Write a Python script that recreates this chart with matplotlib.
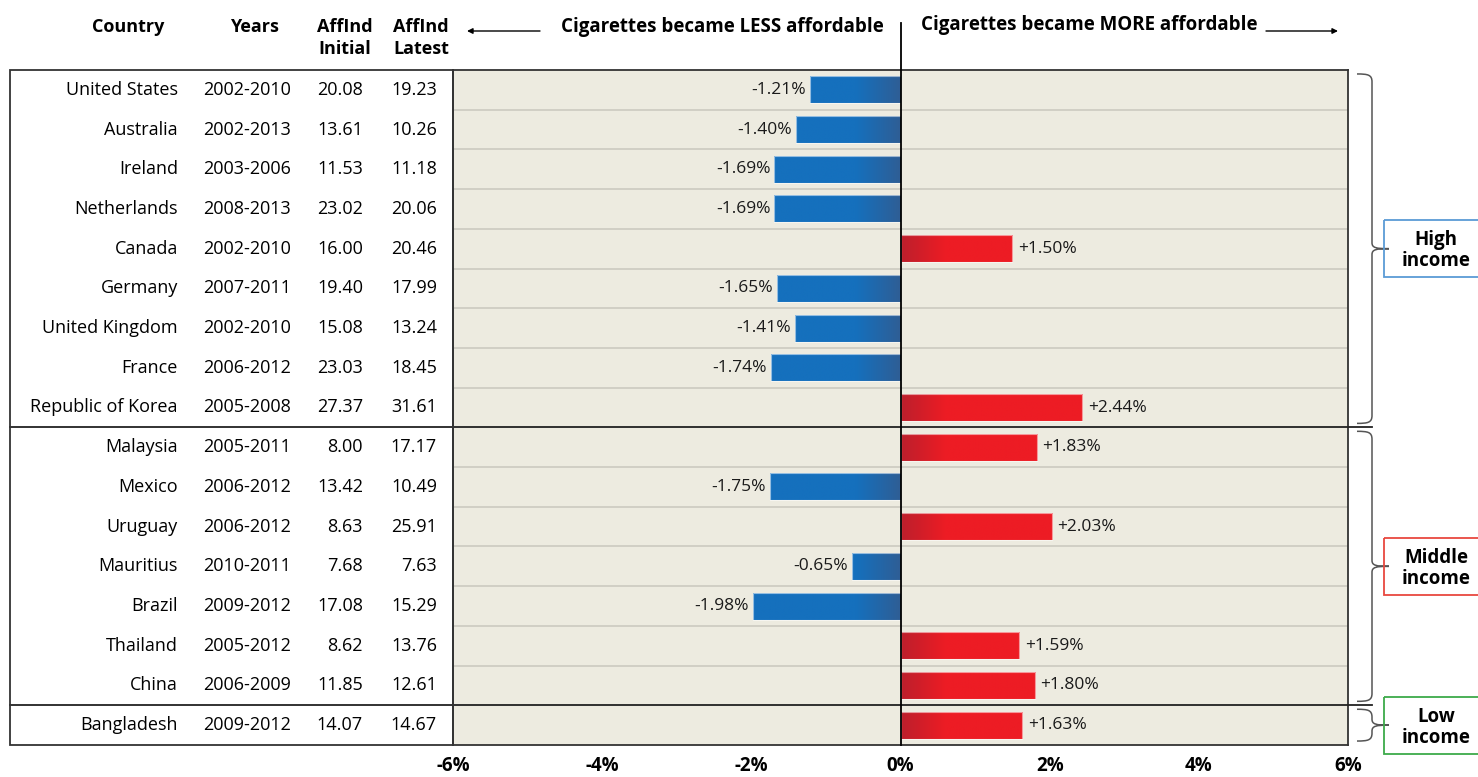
# Package Import
import numpy as np
import matplotlib
import matplotlib.pyplot as plt
from matplotlib.patches import Rectangle, PathPatch, FancyArrowPatch
from matplotlib.path import Path
from matplotlib.colors import to_rgb
from matplotlib.transforms import Affine2D, blended_transform_factory

# Settings
matplotlib.use('Agg')
plt.rcParams['font.family'] = ['Open Sans', 'DejaVu Sans']

# Data
countries = ['United States', 'Australia', 'Ireland', 'Netherlands', 'Canada',
             'Germany', 'United Kingdom', 'France', 'Republic of Korea',
             'Malaysia', 'Mexico', 'Uruguay', 'Mauritius', 'Brazil',
             'Thailand', 'China', 'Bangladesh']
years = ['2002-2010', '2002-2013', '2003-2006', '2008-2013', '2002-2010',
         '2007-2011', '2002-2010', '2006-2012', '2005-2008',
         '2005-2011', '2006-2012', '2006-2012', '2010-2011', '2009-2012',
         '2005-2012', '2006-2009', '2009-2012']
aff_initial = ['20.08', '13.61', '11.53', '23.02', '16.00', '19.40', '15.08',
               '23.03', '27.37', '8.00', '13.42', '8.63', '7.68', '17.08',
               '8.62', '11.85', '14.07']
aff_latest = ['19.23', '10.26', '11.18', '20.06', '20.46', '17.99', '13.24',
              '18.45', '31.61', '17.17', '10.49', '25.91', '7.63', '15.29',
              '13.76', '12.61', '14.67']
pct_change = [-1.21, -1.40, -1.69, -1.69, 1.50, -1.65, -1.41, -1.74, 2.44,
              1.83, -1.75, 2.03, -0.65, -1.98, 1.59, 1.80, 1.63]
group_names = ['High\nincome', 'Middle\nincome', 'Low\nincome']
group_first = [0, 9, 16]
group_last = [8, 15, 16]
group_colors = ['#5B9BD5', '#E8483F', '#3DAA4A']
x_ticks = [-6, -4, -2, 0, 2, 4, 6]

# Figure geometry (pixels)
W, H = 1478, 777
left, right, top, bottom = 453, 1348, 70, 745


def fx(p):
    return p / W


fig = plt.figure(figsize=(W / 100, H / 100), dpi=100)
pix = Affine2D().scale(1 / W, -1 / H).translate(0, 1) + fig.transFigure
ax = fig.add_axes([fx(left), 1 - bottom / H, fx(right - left), (bottom - top) / H])
trow = blended_transform_factory(fig.transFigure, ax.transData)

n = len(countries)
rows = np.arange(n)

# Bars with gradient fill
ax.set_facecolor('#EDEBE0')
bars = ax.barh(rows, pct_change, height=0.68, color='none',
               edgecolor=(1, 1, 1, 0.55), linewidth=0.8, zorder=4)


def gradient(value, bright, dark, span=0.6):
    xs = np.linspace(min(value, 0), max(value, 0), 200)
    t = np.clip(1 - np.abs(xs) / span, 0, 1)[:, None]
    rgb = np.array(to_rgb(bright)) * (1 - t) + np.array(to_rgb(dark)) * t
    return rgb[None, :, :]


for bar, v, r in zip(bars, pct_change, rows):
    if v < 0:
        img = gradient(v, '#1570BD', '#2F5E95')
    else:
        img = gradient(v, '#ED1C24', '#BC1F2C')
    im = ax.imshow(img, extent=(min(v, 0), max(v, 0), r + 0.34, r - 0.34),
                   aspect='auto', zorder=3, interpolation='bilinear')
    im.set_clip_path(bar)

    # Value labels
    if v < 0:
        ax.annotate(f'{v:.2f}%', (v, r), xytext=(-3, 0), textcoords='offset points',
                    ha='right', va='center', fontsize=12.5, color='#1a1a1a')
    else:
        ax.annotate(f'+{v:.2f}%', (v, r), xytext=(4, 0), textcoords='offset points',
                    ha='left', va='center', fontsize=12.5, color='#1a1a1a')

# Row separators
separators = [g + 0.5 for g in group_last[:-1]]
for i in range(n - 1):
    if i + 0.5 not in separators:
        ax.axhline(i + 0.5, color='#C9C7BD', lw=1.1, zorder=1)
for s in separators:
    ax.plot([fx(10), fx(1372)], [s, s], transform=trow, color='#222222',
            lw=1.3, clip_on=False, zorder=6)

ax.set_xlim(-6, 6)
ax.set_ylim(n - 0.5, -0.5)
ax.set_yticks([])
ax.set_xticks(x_ticks)
ax.set_xticklabels([f'{t}%' for t in x_ticks], fontweight='bold', fontsize=13.5)
ax.tick_params(axis='x', length=0, pad=8)
for sp in ax.spines.values():
    sp.set_color('#333333')
    sp.set_linewidth(1.3)

# Zero line reaching into the header
ax.axvline(0, ymin=0, ymax=1 + 47 / (bottom - top), color='black', lw=1.3,
           clip_on=False, zorder=7)

# Table text
for r in rows:
    ax.text(fx(178), r, countries[r], transform=trow, ha='right', va='center',
            fontsize=13, clip_on=False)
    ax.text(fx(247), r, years[r], transform=trow, ha='center', va='center',
            fontsize=13, clip_on=False)
    ax.text(fx(363), r, aff_initial[r], transform=trow, ha='right', va='center',
            fontsize=13, clip_on=False)
    ax.text(fx(437), r, aff_latest[r], transform=trow, ha='right', va='center',
            fontsize=13, clip_on=False)

# Table box
fig.add_artist(Rectangle((fx(10), -0.5), fx(left - 10), n, transform=trow,
                         fill=False, edgecolor='#333333', lw=1.3))

# Header
hdr = dict(transform=pix, ha='center', va='center', fontsize=13, fontweight='bold')
fig.text(128, 27, 'Country', **hdr)
fig.text(254, 27, 'Years', **hdr)
fig.text(345, 27, 'AffInd', **hdr)
fig.text(345, 49, 'Initial', **hdr)
fig.text(421, 27, 'AffInd', **hdr)
fig.text(421, 49, 'Latest', **hdr)
fig.text(884, 27, 'Cigarettes became LESS affordable', transform=pix,
         ha='right', va='center', fontsize=13.5, fontweight='bold')
fig.text(921, 25, 'Cigarettes became MORE affordable', transform=pix,
         ha='left', va='center', fontsize=13.5, fontweight='bold')
for a, b in [((540, 31), (467, 31)), ((1266, 31), (1338, 31))]:
    fig.add_artist(FancyArrowPatch(a, b, transform=pix, arrowstyle='-|>',
                                   mutation_scale=8, lw=1.0, color='black',
                                   shrinkA=0, shrinkB=0))

# Braces and income group labels
x0, xv, xt = fx(1357), fx(1372), fx(1389)
d = fx(4)
for name, a, b, col in zip(group_names, group_first, group_last, group_colors):
    t = a - 0.5 + 0.1
    btm = b + 0.5 - 0.1
    m = (a + b) / 2
    rr = 0.2
    verts = [(x0, t), (xv - d, t), (xv, t + 0.02), (xv, t + rr),
             (xv, m - 0.15), (xv, m - 0.02), (xv + d, m), (xt, m),
             (xv + d, m), (xv, m + 0.02), (xv, m + 0.15),
             (xv, btm - rr), (xv, btm - 0.02), (xv - d, btm), (x0, btm)]
    codes = [Path.MOVETO, Path.CURVE4, Path.CURVE4, Path.CURVE4,
             Path.LINETO, Path.CURVE4, Path.CURVE4, Path.CURVE4,
             Path.CURVE4, Path.CURVE4, Path.CURVE4,
             Path.LINETO, Path.CURVE4, Path.CURVE4, Path.CURVE4]
    fig.add_artist(PathPatch(Path(verts, codes), transform=trow, fill=False,
                             edgecolor='#555555', lw=1.1))
    fig.add_artist(Rectangle((fx(1384), m - 0.72), fx(120), 1.44, transform=trow,
                             fill=False, edgecolor=col, lw=1.3))
    ax.text(fx(1436), m + 0.05, name, transform=trow, ha='center', va='center',
            fontsize=13.5, fontweight='bold', linespacing=1.05, clip_on=False)

fig.savefig('out.png', dpi=100)
plt.close()
